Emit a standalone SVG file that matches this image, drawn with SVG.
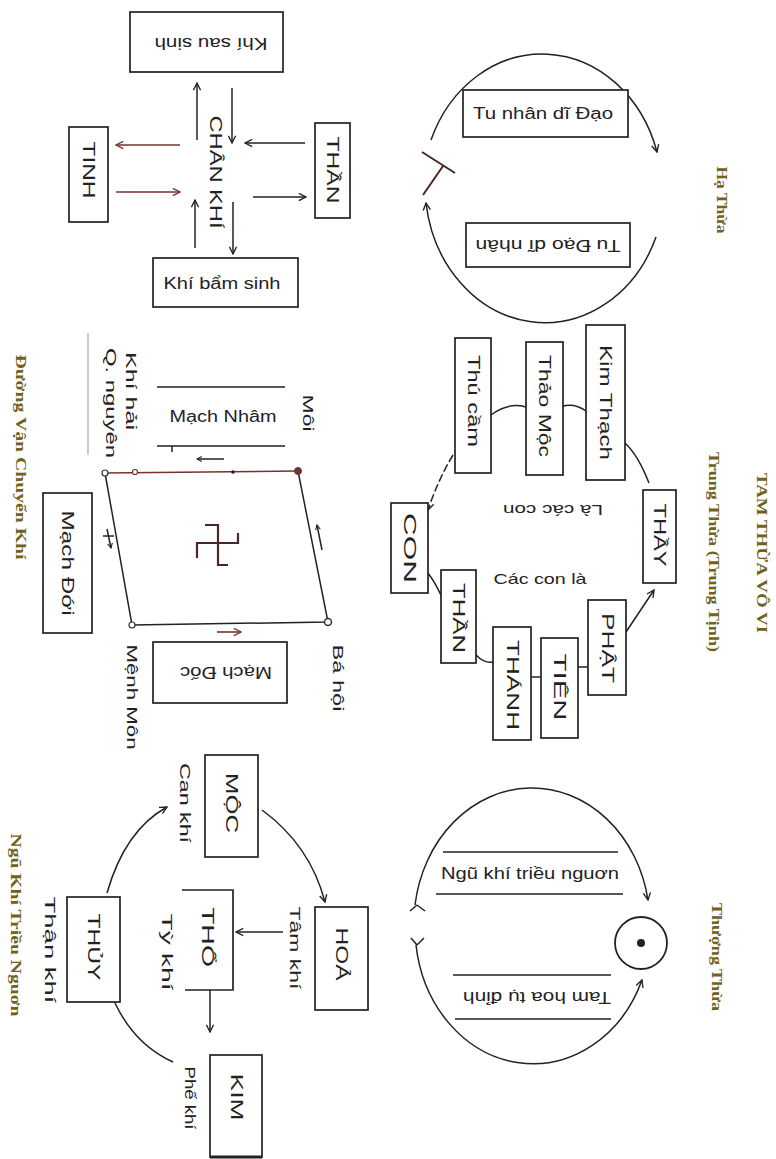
<svg xmlns="http://www.w3.org/2000/svg" width="776" height="1159" viewBox="0 0 776 1159">
<defs>
<style>
.ln{stroke:#222;stroke-width:1.5;fill:none}
.rd{stroke:#7a3030;stroke-width:1.6;fill:none}
.box{fill:#fff;stroke:#222;stroke-width:1.7}
.t{font-family:"Liberation Sans",Arial,sans-serif;font-size:16px;fill:#222;text-anchor:middle;dominant-baseline:central}
.s{font-size:15px}
.ti{font-family:"Liberation Serif","Times New Roman",serif;font-size:14px;fill:#6e621c;text-anchor:middle;dominant-baseline:central;font-weight:bold}
</style>
<marker id="ah" viewBox="0 0 10 10" refX="9" refY="5" markerWidth="9" markerHeight="9" orient="auto" markerUnits="userSpaceOnUse"><path d="M1,1 L9,5 L1,9" fill="none" stroke="#222" stroke-width="1.5"/></marker>
<marker id="ahr" viewBox="0 0 10 10" refX="9" refY="5" markerWidth="9" markerHeight="9" orient="auto" markerUnits="userSpaceOnUse"><path d="M1,1 L9,5 L1,9" fill="none" stroke="#7a3030" stroke-width="1.5"/></marker>
<marker id="ahs" viewBox="0 0 10 10" refX="9" refY="5" markerWidth="6" markerHeight="6" orient="auto" markerUnits="userSpaceOnUse"><path d="M1,1 L9,5 L1,9" fill="none" stroke="#222" stroke-width="1.8"/></marker>
</defs>
<rect width="776" height="1159" fill="#fff"/>

<g id="connectors">
<!-- Chan khi -->
<path class="ln" d="M197,140 L197,83" marker-end="url(#ah)"/>
<path class="ln" d="M232,88 L232,143" marker-end="url(#ah)"/>
<path class="rd" d="M180,145 L116,145" marker-end="url(#ahr)"/>
<path class="rd" d="M116,192 L180,192" marker-end="url(#ahr)"/>
<path class="ln" d="M305,143 L245,143" marker-end="url(#ah)"/>
<path class="ln" d="M253,197 L306,197" marker-end="url(#ah)"/>
<path class="ln" d="M195,248 L195,200" marker-end="url(#ah)"/>
<path class="ln" d="M233,202 L233,254" marker-end="url(#ah)"/>
<!-- Ha thua -->
<path class="ln" d="M431,140 A120,138 0 0 1 657,152" marker-end="url(#ah)"/>
<path class="ln" d="M656,237 A120,138 0 0 1 426,203" marker-end="url(#ah)"/>
<path d="M422,152 L455,173 M423,195 L443,166" stroke="#4a2525" stroke-width="2" fill="none"/>
<!-- Trung thua -->
<path class="ln" d="M649,483 Q638,455 625,443"/>
<path class="ln" d="M586,411 Q575,403 563,406"/>
<path class="ln" d="M526,407 Q508,402 491,415"/>
<path class="ln" d="M453,455 Q438,480 428,510" stroke-dasharray="8 3" marker-end="url(#ah)"/>
<path class="ln" d="M428,573 Q437,585 443,600"/>
<path class="ln" d="M476,655 Q485,664 493,662"/>
<path class="ln" d="M531,677 L541,677"/>
<path class="ln" d="M578,667 L588,667"/>
<path class="ln" d="M626,632 L654,590" marker-end="url(#ah)"/>
<!-- Duong van chuyen khi -->
<path class="ln" d="M298,471 L328,622 L132,625 L105,473"/>
<path class="rd" d="M105,473 L298,471"/>
<path class="ln" d="M157,387 L285,387 M157,446 L285,446 M172,446 L172,452"/>
<path class="ln" d="M224,459 L197,459" marker-end="url(#ahs)"/>
<path d="M88,333 L88,455" stroke="#999" stroke-width="1" fill="none"/>
<path class="ln" d="M107,529 L111,548" marker-end="url(#ahs)"/>
<path class="ln" d="M103,536 L114,536"/>
<path class="ln" d="M322,550 L317,525" marker-end="url(#ahs)"/>
<path class="rd" d="M217,632 L241,632" marker-end="url(#ahr)"/>
<!-- Thuong thua -->
<path class="ln" d="M415,905 A118,136 0 0 1 648,900" marker-end="url(#ah)"/>
<path class="ln" d="M416,945 A118,136 0 0 0 642,980" marker-end="url(#ah)"/>
<path class="ln" d="M417,905 L410,911 M417,905 L425,911 M417,945 L411,938 M417,945 L424,938"/>
<path class="ln" d="M443,852 L618,852 M436,894 L623,894 M453,975 L611,975 M455,1019 L611,1019"/>
<!-- Ngu khi -->
<path class="ln" d="M262,810 Q310,845 325,902" marker-end="url(#ah)"/>
<path class="ln" d="M283,932 L236,932" marker-end="url(#ah)"/>
<path class="ln" d="M210,990 L210,1032" marker-end="url(#ah)"/>
<path class="ln" d="M115,1003 Q135,1045 173,1062"/>
<path class="ln" d="M107,893 Q125,830 167,807" marker-end="url(#ah)"/>
</g>

<!-- Panel: Chan khi -->
<g id="khi-sau-sinh"><rect class="box" x="130" y="12" width="153" height="60"/><text class="t" transform="translate(211,43) rotate(180)" textLength="113" lengthAdjust="spacingAndGlyphs">Khí sau sinh</text></g>
<g id="tinh"><rect class="box" x="69" y="127" width="39" height="95"/><text class="t" transform="translate(88.5,170) rotate(90)" textLength="57" lengthAdjust="spacingAndGlyphs">TINH</text></g>
<g id="than1"><rect class="box" x="315" y="123" width="35" height="95"/><text class="t" transform="translate(332.5,170) rotate(90)" textLength="67" lengthAdjust="spacingAndGlyphs">THẦN</text></g>
<g id="khi-bam-sinh"><rect class="box" x="153" y="258" width="145" height="49"/><text class="t" x="222" y="283" textLength="117" lengthAdjust="spacingAndGlyphs">Khí bẩm sinh</text></g>
<g id="chan-khi"><text class="t" transform="translate(215,172) rotate(90)" textLength="113" lengthAdjust="spacingAndGlyphs">CHÂN KHÍ</text></g>

<!-- Panel: Ha thua -->
<g id="tu-nhan"><rect class="box" x="463" y="90" width="165" height="47"/><text class="t" x="543" y="113" textLength="140" lengthAdjust="spacingAndGlyphs">Tu nhân dĩ Đạo</text></g>
<g id="tu-dao"><rect class="box" x="466" y="223" width="164" height="44"/><text class="t" transform="translate(548,245) rotate(180)" textLength="145" lengthAdjust="spacingAndGlyphs">Tu Đạo dĩ nhân</text></g>
<g id="ha-thua-label"><text class="ti" transform="translate(721,200) rotate(90)" textLength="67" lengthAdjust="spacingAndGlyphs">Hạ Thừa</text></g>

<!-- Panel: Trung thua -->
<g id="kim-thach"><rect class="box" x="586" y="325" width="39" height="155"/><text class="t" transform="translate(605.5,402.5) rotate(90)" textLength="115" lengthAdjust="spacingAndGlyphs">Kim Thạch</text></g>
<g id="thao-moc"><rect class="box" x="526" y="342" width="37" height="133"/><text class="t" transform="translate(544.5,406) rotate(90)" textLength="102" lengthAdjust="spacingAndGlyphs">Thảo Mộc</text></g>
<g id="thu-cam"><rect class="box" x="455" y="338" width="36" height="135"/><text class="t" transform="translate(473,401) rotate(90)" textLength="92" lengthAdjust="spacingAndGlyphs">Thú cầm</text></g>
<g id="con"><rect class="box" x="391" y="503" width="37" height="90"/><text class="t" transform="translate(409.5,548) rotate(90)" textLength="70" lengthAdjust="spacingAndGlyphs">CON</text></g>
<g id="thay"><rect class="box" x="643" y="490" width="33" height="93"/><text class="t" transform="translate(659.5,535) rotate(90)" textLength="63" lengthAdjust="spacingAndGlyphs">THẦY</text></g>
<g id="phat"><rect class="box" x="588" y="600" width="38" height="95"/><text class="t" transform="translate(607,648) rotate(90)" textLength="70" lengthAdjust="spacingAndGlyphs">PHẬT</text></g>
<g id="tien"><rect class="box" x="541" y="638" width="37" height="100"/><text class="t" transform="translate(559.5,687) rotate(90)" textLength="67" lengthAdjust="spacingAndGlyphs">TIÊN</text></g>
<g id="thanh"><rect class="box" x="493" y="627" width="38" height="113"/><text class="t" transform="translate(512,685) rotate(90)" textLength="90" lengthAdjust="spacingAndGlyphs">THÁNH</text></g>
<g id="than2"><rect class="box" x="441" y="570" width="35" height="93"/><text class="t" transform="translate(458.5,618) rotate(90)" textLength="70" lengthAdjust="spacingAndGlyphs">THẦN</text></g>
<g id="la-cac-con"><text class="t s" transform="translate(553,510) rotate(180)" textLength="100" lengthAdjust="spacingAndGlyphs">Là các con</text></g>
<g id="cac-con-la"><text class="t s" x="540" y="578" textLength="93" lengthAdjust="spacingAndGlyphs">Các con là</text></g>
<g id="title"><text class="ti" transform="translate(761,553) rotate(90)" textLength="160" lengthAdjust="spacingAndGlyphs">TAM THỪA VÔ VI</text></g>
<g id="trung-thua-label"><text class="ti" transform="translate(713,552) rotate(90)" textLength="200" lengthAdjust="spacingAndGlyphs">Trung Thừa (Trung Tịnh)</text></g>

<!-- Panel: Duong van chuyen khi -->
<g id="vertices">
<circle cx="105" cy="473" r="3" fill="#fff" stroke="#333" stroke-width="1.2"/>
<circle cx="298" cy="471" r="3.5" fill="#6a3535" stroke="#6a3535"/>
<circle cx="328" cy="622" r="3.5" fill="#fff" stroke="#333" stroke-width="1.5"/>
<circle cx="132" cy="625" r="3" fill="#fff" stroke="#333" stroke-width="1.2"/>
<circle cx="135" cy="472" r="2.5" fill="#fff" stroke="#7a3030" stroke-width="1.2"/>
<circle cx="233" cy="472" r="1.8" fill="#222"/>
</g>
<g id="swastika"><path d="M205,525 H218 V565 H228 M197,558 V543 H238 V533" fill="none" stroke="#4a2828" stroke-width="2.2"/></g>
<g id="mach-nham"><text class="t" x="223" y="416" textLength="107" lengthAdjust="spacingAndGlyphs">Mạch Nhâm</text></g>
<g id="khi-hai"><text class="t s" transform="translate(131,391) rotate(90)" textLength="78" lengthAdjust="spacingAndGlyphs">Khí hải</text><text class="t s" transform="translate(111,403) rotate(90)" textLength="110" lengthAdjust="spacingAndGlyphs">Q. nguyên</text></g>
<g id="moi"><text class="t s" transform="translate(308,413) rotate(90)" textLength="37" lengthAdjust="spacingAndGlyphs">Môi</text></g>
<g id="mach-doi"><rect class="box" x="43" y="493" width="49" height="140"/><text class="t" transform="translate(67.5,563) rotate(90)" textLength="105" lengthAdjust="spacingAndGlyphs">Mạch Đới</text></g>
<g id="mach-doc"><rect class="box" x="153" y="642" width="134" height="61"/><text class="t" transform="translate(226,672) rotate(180)" textLength="92" lengthAdjust="spacingAndGlyphs">Mạch Đốc</text></g>
<g id="ba-hoi"><text class="t s" transform="translate(338,678) rotate(90)" textLength="67" lengthAdjust="spacingAndGlyphs">Bá hội</text></g>
<g id="menh-mon"><text class="t s" transform="translate(132,697) rotate(90)" textLength="105" lengthAdjust="spacingAndGlyphs">Mệnh Môn</text></g>
<g id="duong-label"><text class="ti" transform="translate(20,457) rotate(90)" textLength="205" lengthAdjust="spacingAndGlyphs">Đường Vận Chuyển Khí</text></g>

<!-- Panel: Thuong thua -->
<g id="ngu-khi-trieu"><text class="t" x="530" y="873" textLength="178" lengthAdjust="spacingAndGlyphs">Ngũ khí triều nguơn</text></g>
<g id="tam-hoa"><text class="t" transform="translate(537,997) rotate(180)" textLength="148" lengthAdjust="spacingAndGlyphs">Tam hoa tụ đỉnh</text></g>
<g id="dinh"><circle cx="641" cy="943" r="26" fill="none" stroke="#222" stroke-width="1.8"/><circle cx="641" cy="943" r="4" fill="#222"/></g>
<g id="thuong-thua-label"><text class="ti" transform="translate(716,957) rotate(90)" textLength="108" lengthAdjust="spacingAndGlyphs">Thượng Thừa</text></g>

<!-- Panel: Ngu khi trieu nguon -->
<g id="moc"><rect class="box" x="205" y="755" width="53" height="102"/><text class="t" transform="translate(231.5,803) rotate(90)" textLength="60" lengthAdjust="spacingAndGlyphs">MỘC</text></g>
<g id="hoa"><rect class="box" x="315" y="907" width="53" height="103"/><text class="t" transform="translate(341.5,954) rotate(90)" textLength="53" lengthAdjust="spacingAndGlyphs">HOẢ</text></g>
<g id="tho"><path d="M182,890 H233 V990 H185" fill="#fff" stroke="#222" stroke-width="1.7"/><text class="t" transform="translate(207,937) rotate(90)" textLength="60" lengthAdjust="spacingAndGlyphs">THỔ</text></g>
<g id="thuy"><rect class="box" x="67" y="897" width="53" height="105"/><text class="t" transform="translate(93.5,947) rotate(90)" textLength="67" lengthAdjust="spacingAndGlyphs">THỦY</text></g>
<g id="kim"><rect class="box" x="210" y="1055" width="52" height="102"/><path d="M210,1157 H262" stroke="#222" stroke-width="3"/><text class="t" transform="translate(236,1097) rotate(90)" textLength="47" lengthAdjust="spacingAndGlyphs">KIM</text></g>
<g id="labels-ngu-khi">
<text class="t s" transform="translate(185,803) rotate(90)" textLength="80" lengthAdjust="spacingAndGlyphs">Can khí</text>
<text class="t s" transform="translate(295,948) rotate(90)" textLength="83" lengthAdjust="spacingAndGlyphs">Tâm khí</text>
<text class="t s" transform="translate(167,952) rotate(90)" textLength="77" lengthAdjust="spacingAndGlyphs">Tỳ khí</text>
<text class="t s" transform="translate(190,1098) rotate(90)" textLength="63" lengthAdjust="spacingAndGlyphs">Phế khí</text>
<text class="t s" transform="translate(50,950) rotate(90)" textLength="107" lengthAdjust="spacingAndGlyphs">Thận khí</text>
</g>
<g id="ngu-khi-label"><text class="ti" transform="translate(15,925) rotate(90)" textLength="183" lengthAdjust="spacingAndGlyphs">Ngũ Khí Triều Nguơn</text></g>
</svg>
